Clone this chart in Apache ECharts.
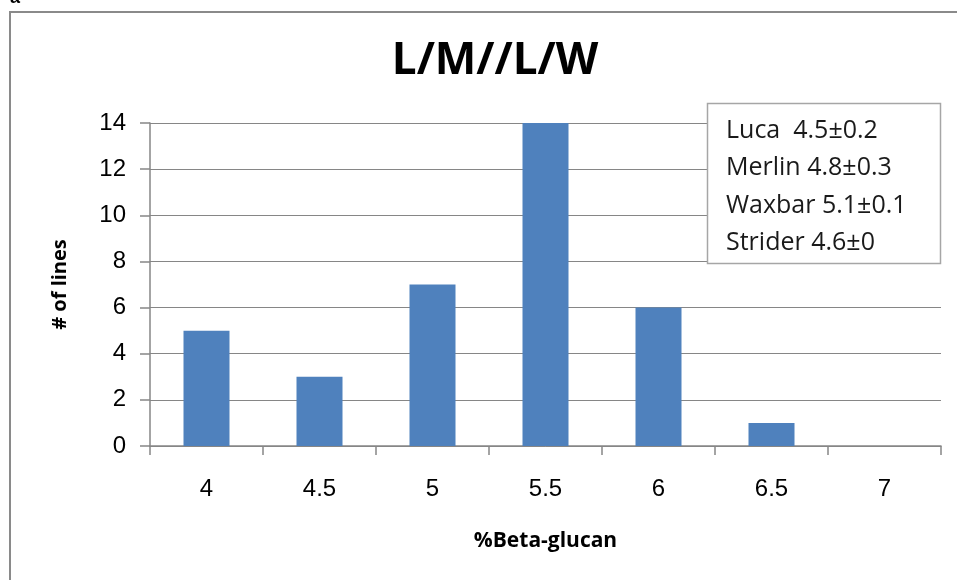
<!DOCTYPE html>
<html>
<head>
<meta charset="utf-8">
<script src="https://cdn.jsdelivr.net/npm/echarts@6/dist/echarts.min.js"></script>
<style>
	html, body { margin: 0; padding: 0; background: #fff; }
	#chart { width: 957px; height: 580px; }
</style>
</head>
<body>
<div id="chart"></div>
<script>
	var categories = ['4', '4.5', '5', '5.5', '6', '6.5', '7'];
	var counts = [5, 3, 7, 14, 6, 1, 0];
	var noteLines = ['Luca  4.5\u00b10.2', 'Merlin 4.8\u00b10.3', 'Waxbar 5.1\u00b10.1', 'Strider 4.6\u00b10'];

	var chart = echarts.init(document.getElementById('chart'));
	var gray = '#868686';
	var labelFont = 'Liberation Sans, Arial, sans-serif';
	var textFont = 'Open Sans, Noto Sans, sans-serif';

	var noteTexts = [];
	for (var i = 0; i < noteLines.length; i++) {
		noteTexts.push({
			type: 'text',
			x: 726,
			y: 118 + i * 37.5,
			z: 20,
			style: {
				text: noteLines[i],
				font: '25px ' + textFont,
				fill: '#1a1a1a'
			}
		});
	}

	chart.setOption({
		animation: false,
		title: {
			text: 'L/M//L/W',
			left: 490,
			top: 34,
			textAlign: 'center',
			textStyle: {
				fontFamily: textFont,
				fontWeight: 'bold',
				fontSize: 44,
				color: '#000'
			}
		},
		grid: {
			left: 150,
			right: 16,
			top: 123,
			bottom: 134
		},
		xAxis: {
			type: 'category',
			data: categories,
			name: '%Beta-glucan',
			nameLocation: 'middle',
			nameGap: 85,
			nameTextStyle: {
				fontFamily: textFont,
				fontWeight: 'bold',
				fontSize: 21,
				color: '#000'
			},
			axisLine: {lineStyle: {color: gray, width: 1.5}},
			axisTick: {show: true, length: 9, lineStyle: {color: gray, width: 1.5}},
			axisLabel: {
				margin: 31,
				fontFamily: labelFont,
				fontSize: 24,
				color: '#000'
			}
		},
		yAxis: {
			type: 'value',
			min: 0,
			max: 14,
			interval: 2,
			name: '# of lines',
			nameLocation: 'middle',
			nameGap: 80,
			nameTextStyle: {
				fontFamily: textFont,
				fontWeight: 'bold',
				fontSize: 20,
				color: '#000'
			},
			axisLine: {show: true, lineStyle: {color: gray, width: 1.5}},
			axisTick: {show: true, length: 10, lineStyle: {color: gray, width: 1.5}},
			splitLine: {lineStyle: {color: gray, width: 1}},
			axisLabel: {
				margin: 24,
				fontFamily: labelFont,
				fontSize: 24,
				color: '#000'
			}
		},
		series: [
			{
				type: 'bar',
				data: counts,
				barWidth: 46,
				itemStyle: {color: '#4F81BD'}
			}
		],
		graphic: [
			{
				type: 'rect',
				shape: {x: 10, y: 12, width: 960, height: 580},
				style: {fill: 'none', stroke: '#8a8a8a', lineWidth: 2},
				silent: true
			},
			{
				type: 'text',
				x: 10,
				y: -11,
				style: {text: 'a', font: 'bold 18px ' + labelFont, fill: '#000'}
			},
			{
				type: 'rect',
				shape: {x: 707.5, y: 103.5, width: 233, height: 160},
				style: {fill: '#fff', stroke: '#a6a6a6', lineWidth: 1.5},
				z: 10
			}
		].concat(noteTexts)
	});
</script>
</body>
</html>
